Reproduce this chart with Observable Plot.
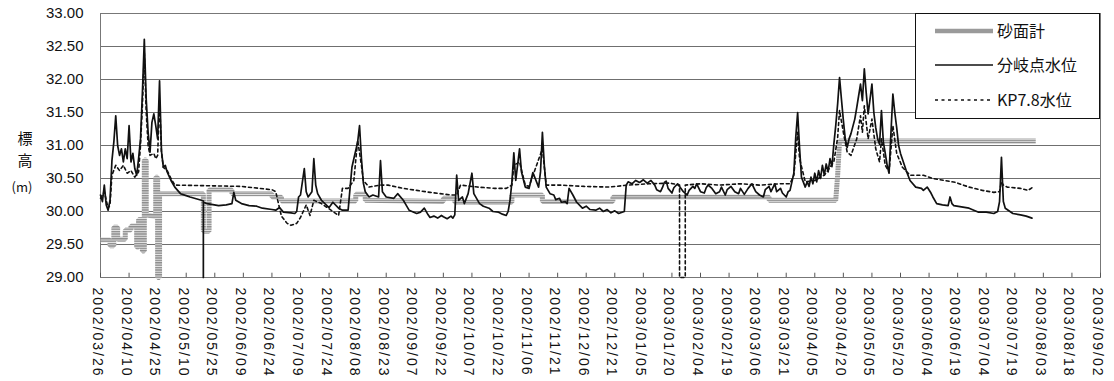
<!DOCTYPE html>
<html><head><meta charset="utf-8">
<script src="https://cdn.jsdelivr.net/npm/d3@7"></script>
<script src="https://cdn.jsdelivr.net/npm/@observablehq/plot@0.6"></script>
<style>
body{margin:0;background:#fff;}
#chart svg{display:block}
g[aria-label="x-axis tick label"] text{letter-spacing:2px}
</style>
</head><body><div id="chart"></div>
<script>
// ---- data ----
const seriesNames = ["砂面計", "分岐点水位", "KP7.8水位"];
const yTickValues = [29, 29.5, 30, 30.5, 31, 31.5, 32, 32.5, 33];
const xTickLabels = ["2002/03/26","2002/04/10","2002/04/25","2002/05/10","2002/05/25","2002/06/09","2002/06/24","2002/07/09","2002/07/24","2002/08/08","2002/08/23","2002/09/07","2002/09/22","2002/10/07","2002/10/22","2002/11/06","2002/11/21","2002/12/06","2002/12/21","2003/01/05","2003/01/20","2003/02/04","2003/02/19","2003/03/06","2003/03/21","2003/04/05","2003/04/20","2003/05/05","2003/05/20","2003/06/04","2003/06/19","2003/07/04","2003/07/19","2003/08/03","2003/08/18","2003/09/02"];

const sandLevel = [["2002-03-26",29.57],["2002-03-31",29.57],["2002-03-31",29.48],["2002-04-02",29.48],["2002-04-02",29.76],["2002-04-04",29.76],["2002-04-04",29.58],["2002-04-08",29.58],["2002-04-08",29.72],["2002-04-11",29.72],["2002-04-11",29.78],["2002-04-14",29.78],["2002-04-14",29.46],["2002-04-15",29.46],["2002-04-15",29.88],["2002-04-17",29.88],["2002-04-17",29.40],["2002-04-18",29.40],["2002-04-18",30.78],["2002-04-19",30.78],["2002-04-19",29.95],["2002-04-24",29.92],["2002-04-24",30.52],["2002-04-25",30.52],["2002-04-25",29.00],["2002-04-26",29.00],["2002-04-26",30.27],["2002-05-19",30.27],["2002-05-19",29.70],["2002-05-22",29.70],["2002-05-22",30.33],["2002-06-03",30.33],["2002-06-03",30.27],["2002-06-24",30.27],["2002-06-24",30.22],["2002-06-29",30.22],["2002-06-29",30.16],["2002-08-07",30.16],["2002-08-07",30.26],["2002-08-12",30.26],["2002-08-12",30.17],["2002-09-22",30.15],["2002-09-22",30.20],["2002-09-28",30.20],["2002-09-28",30.14],["2002-10-28",30.14],["2002-10-28",30.25],["2002-11-13",30.25],["2002-11-13",30.15],["2002-12-20",30.15],["2002-12-20",30.22],["2003-03-12",30.22],["2003-03-12",30.17],["2003-04-16",30.17],["2003-04-17",30.55],["2003-04-18",31.07],["2003-07-30",31.07]];

const branchLevel = [["2002-03-26",30.25],["2002-03-27",30.15],["2002-03-28",30.40],["2002-03-29",30.10],["2002-03-30",30.02],["2002-03-31",30.17],["2002-04-01",30.77],["2002-04-02",31.05],["2002-04-03",31.45],["2002-04-04",31.00],["2002-04-05",30.85],["2002-04-06",30.95],["2002-04-07",30.75],["2002-04-08",30.95],["2002-04-09",30.80],["2002-04-10",31.30],["2002-04-11",30.75],["2002-04-12",30.88],["2002-04-13",30.65],["2002-04-14",30.55],["2002-04-15",30.80],["2002-04-16",31.10],["2002-04-17",31.80],["2002-04-18",32.61],["2002-04-19",31.70],["2002-04-20",31.20],["2002-04-21",30.90],["2002-04-22",31.35],["2002-04-23",31.48],["2002-04-24",31.30],["2002-04-25",31.10],["2002-04-26",31.98],["2002-04-27",30.92],["2002-04-28",30.67],["2002-04-29",30.70],["2002-04-30",30.60],["2002-05-02",30.47],["2002-05-03",30.42],["2002-05-04",30.37],["2002-05-07",30.27],["2002-05-10",30.24],["2002-05-12",30.22],["2002-05-18",30.17],["2002-05-19",30.16],["2002-05-19",29.00],["2002-05-19",30.14],["2002-05-21",30.12],["2002-05-27",30.09],["2002-05-31",30.10],["2002-06-03",30.12],["2002-06-04",30.29],["2002-06-05",30.17],["2002-06-08",30.12],["2002-06-12",30.09],["2002-06-16",30.08],["2002-06-19",30.05],["2002-06-24",30.03],["2002-06-26",30.02],["2002-06-28",30.06],["2002-06-30",29.99],["2002-07-04",29.98],["2002-07-06",29.97],["2002-07-07",30.00],["2002-07-08",30.22],["2002-07-09",30.25],["2002-07-11",30.65],["2002-07-12",30.30],["2002-07-13",30.22],["2002-07-15",30.30],["2002-07-16",30.80],["2002-07-17",30.40],["2002-07-18",30.27],["2002-07-20",30.17],["2002-07-24",30.06],["2002-07-26",30.14],["2002-07-29",30.05],["2002-07-31",30.02],["2002-08-03",30.02],["2002-08-04",30.35],["2002-08-05",30.67],["2002-08-06",30.80],["2002-08-08",31.05],["2002-08-09",31.30],["2002-08-10",30.80],["2002-08-11",30.43],["2002-08-12",30.30],["2002-08-14",30.22],["2002-08-16",30.25],["2002-08-19",30.22],["2002-08-20",30.77],["2002-08-21",30.30],["2002-08-23",30.22],["2002-08-27",30.20],["2002-08-29",30.27],["2002-09-01",30.17],["2002-09-02",30.12],["2002-09-04",30.02],["2002-09-08",29.97],["2002-09-10",29.99],["2002-09-12",30.05],["2002-09-14",29.95],["2002-09-15",29.91],["2002-09-17",29.93],["2002-09-19",29.90],["2002-09-21",29.94],["2002-09-22",29.92],["2002-09-24",29.89],["2002-09-26",29.93],["2002-09-27",29.90],["2002-09-28",29.95],["2002-09-29",30.55],["2002-09-30",30.17],["2002-10-02",30.22],["2002-10-03",30.12],["2002-10-05",30.27],["2002-10-07",30.58],["2002-10-08",30.27],["2002-10-11",30.12],["2002-10-13",30.08],["2002-10-16",30.05],["2002-10-18",30.00],["2002-10-21",29.99],["2002-10-23",29.96],["2002-10-25",29.94],["2002-10-26",30.00],["2002-10-27",30.17],["2002-10-28",30.45],["2002-10-29",30.89],["2002-10-30",30.47],["2002-11-01",30.95],["2002-11-02",30.60],["2002-11-04",30.37],["2002-11-06",30.35],["2002-11-08",30.59],["2002-11-11",30.37],["2002-11-12",30.60],["2002-11-13",31.20],["2002-11-14",30.70],["2002-11-15",30.37],["2002-11-17",30.27],["2002-11-19",30.25],["2002-11-20",30.18],["2002-11-22",30.20],["2002-11-23",30.14],["2002-11-25",30.15],["2002-11-26",30.12],["2002-11-27",30.35],["2002-11-29",30.25],["2002-12-01",30.14],["2002-12-04",30.05],["2002-12-06",30.08],["2002-12-08",30.03],["2002-12-11",30.02],["2002-12-13",30.05],["2002-12-15",30.00],["2002-12-17",30.03],["2002-12-19",29.98],["2002-12-21",30.01],["2002-12-23",29.97],["2002-12-26",30.00],["2002-12-27",30.40],["2002-12-28",30.45],["2002-12-30",30.42],["2003-01-01",30.47],["2003-01-03",30.44],["2003-01-05",30.48],["2003-01-07",30.43],["2003-01-09",30.47],["2003-01-11",30.40],["2003-01-12",30.33],["2003-01-14",30.30],["2003-01-15",30.36],["2003-01-16",30.44],["2003-01-17",30.46],["2003-01-18",30.35],["2003-01-20",30.28],["2003-01-21",30.36],["2003-01-23",30.42],["2003-01-24",30.38],["2003-01-26",30.30],["2003-01-28",30.25],["2003-01-29",30.32],["2003-01-31",30.38],["2003-02-01",30.35],["2003-02-02",30.42],["2003-02-04",30.30],["2003-02-06",30.28],["2003-02-07",30.36],["2003-02-08",30.40],["2003-02-10",30.35],["2003-02-12",30.27],["2003-02-14",30.30],["2003-02-15",30.37],["2003-02-17",30.25],["2003-02-18",30.33],["2003-02-20",30.38],["2003-02-22",30.30],["2003-02-24",30.27],["2003-02-25",30.35],["2003-02-27",30.26],["2003-03-01",30.35],["2003-03-03",30.42],["2003-03-05",30.30],["2003-03-07",30.25],["2003-03-09",30.22],["2003-03-10",30.33],["2003-03-12",30.38],["2003-03-13",30.30],["2003-03-15",30.42],["2003-03-16",30.30],["2003-03-18",30.35],["2003-03-19",30.28],["2003-03-21",30.22],["2003-03-22",30.30],["2003-03-23",30.32],["2003-03-25",30.58],["2003-03-26",31.12],["2003-03-27",31.50],["2003-03-28",30.97],["2003-03-29",30.52],["2003-03-31",30.37],["2003-04-01",30.45],["2003-04-02",30.38],["2003-04-03",30.52],["2003-04-04",30.42],["2003-04-05",30.58],["2003-04-06",30.45],["2003-04-07",30.62],["2003-04-08",30.50],["2003-04-09",30.70],["2003-04-10",30.55],["2003-04-11",30.72],["2003-04-12",30.60],["2003-04-13",30.80],["2003-04-14",30.68],["2003-04-15",31.02],["2003-04-16",31.30],["2003-04-17",31.63],["2003-04-18",32.03],["2003-04-19",31.70],["2003-04-20",31.38],["2003-04-21",31.10],["2003-04-22",30.97],["2003-04-23",31.10],["2003-04-24",31.18],["2003-04-26",31.40],["2003-04-27",31.57],["2003-04-28",31.75],["2003-04-29",31.93],["2003-04-30",31.68],["2003-05-01",32.16],["2003-05-02",31.80],["2003-05-03",31.48],["2003-05-04",31.70],["2003-05-05",31.93],["2003-05-06",31.50],["2003-05-07",31.27],["2003-05-08",31.10],["2003-05-09",31.02],["2003-05-10",31.53],["2003-05-11",31.05],["2003-05-12",30.88],["2003-05-13",30.70],["2003-05-14",30.58],["2003-05-15",31.20],["2003-05-16",31.78],["2003-05-17",31.50],["2003-05-18",31.27],["2003-05-19",31.00],["2003-05-20",30.88],["2003-05-23",30.62],["2003-05-25",30.47],["2003-05-28",30.37],["2003-05-31",30.35],["2003-06-01",30.32],["2003-06-03",30.37],["2003-06-05",30.28],["2003-06-06",30.22],["2003-06-08",30.12],["2003-06-11",30.10],["2003-06-14",30.09],["2003-06-15",30.22],["2003-06-16",30.12],["2003-06-17",30.09],["2003-06-21",30.07],["2003-06-25",30.05],["2003-06-30",29.99],["2003-07-04",29.99],["2003-07-08",29.97],["2003-07-10",30.00],["2003-07-11",30.15],["2003-07-12",30.82],["2003-07-13",30.15],["2003-07-14",30.05],["2003-07-18",29.97],["2003-07-22",29.95],["2003-07-25",29.93],["2003-07-28",29.90]];

const kpLevel = [["2002-03-26",30.20],["2002-03-28",30.30],["2002-03-30",30.05],["2002-03-31",30.10],["2002-04-01",30.55],["2002-04-03",30.70],["2002-04-05",30.62],["2002-04-07",30.70],["2002-04-09",30.58],["2002-04-11",30.62],["2002-04-13",30.52],["2002-04-15",30.60],["2002-04-16",31.00],["2002-04-17",31.60],["2002-04-18",32.40],["2002-04-19",31.50],["2002-04-20",31.00],["2002-04-21",30.85],["2002-04-23",30.88],["2002-04-24",30.80],["2002-04-25",30.85],["2002-04-26",31.70],["2002-04-27",30.90],["2002-04-28",30.67],["2002-04-30",30.62],["2002-05-02",30.50],["2002-05-04",30.40],["2002-05-22",30.39],["2002-06-08",30.38],["2002-06-24",30.33],["2002-06-26",30.30],["2002-06-28",30.05],["2002-06-29",29.93],["2002-07-02",29.82],["2002-07-04",29.79],["2002-07-07",29.82],["2002-07-09",29.91],["2002-07-12",30.10],["2002-07-14",29.94],["2002-07-16",30.17],["2002-07-20",30.12],["2002-07-25",30.02],["2002-07-29",29.94],["2002-07-31",30.35],["2002-08-03",30.35],["2002-08-06",30.47],["2002-08-08",31.08],["2002-08-10",30.70],["2002-08-11",30.47],["2002-08-14",30.37],["2002-08-20",30.40],["2002-08-24",30.40],["2002-09-01",30.35],["2002-09-08",30.32],["2002-09-15",30.29],["2002-09-26",30.25],["2002-09-29",30.25],["2002-10-01",30.40],["2002-10-10",30.37],["2002-10-19",30.35],["2002-10-25",30.35],["2002-10-28",30.40],["2002-10-29",30.70],["2002-11-01",30.75],["2002-11-04",30.40],["2002-11-06",30.38],["2002-11-13",30.95],["2002-11-15",30.40],["2002-11-22",30.40],["2002-12-05",30.38],["2002-12-18",30.37],["2002-12-28",30.40],["2003-01-08",30.42],["2003-01-19",30.43],["2003-01-24",30.40],["2003-01-24",29.00],["2003-01-27",29.00],["2003-01-27",30.40],["2003-02-04",30.42],["2003-02-14",30.40],["2003-02-25",30.42],["2003-03-07",30.40],["2003-03-18",30.42],["2003-03-23",30.42],["2003-03-25",30.55],["2003-03-27",31.20],["2003-03-28",30.80],["2003-03-31",30.45],["2003-04-05",30.47],["2003-04-10",30.55],["2003-04-15",30.75],["2003-04-17",31.12],["2003-04-18",31.53],["2003-04-20",31.20],["2003-04-22",30.90],["2003-04-24",30.85],["2003-04-27",31.10],["2003-04-29",31.45],["2003-04-30",31.20],["2003-05-01",31.60],["2003-05-03",31.10],["2003-05-05",31.40],["2003-05-07",30.95],["2003-05-09",30.75],["2003-05-10",31.10],["2003-05-12",30.70],["2003-05-14",30.60],["2003-05-16",31.30],["2003-05-18",30.88],["2003-05-21",30.67],["2003-05-25",30.55],["2003-06-01",30.55],["2003-06-06",30.50],["2003-06-18",30.44],["2003-06-25",30.37],["2003-07-02",30.32],["2003-07-08",30.29],["2003-07-11",30.30],["2003-07-12",30.45],["2003-07-13",30.40],["2003-07-15",30.37],["2003-07-22",30.35],["2003-07-26",30.32],["2003-07-28",30.36]];

// ---- chart ----
const parseTick = d3.utcParse("%Y/%m/%d");
const parseDay = d3.utcParse("%Y-%m-%d");
const fmtTick = d3.utcFormat("%Y/%m/%d");
const xTickDates = xTickLabels.map(parseTick);
const toRows = arr => arr.map(([d, v]) => ({date: parseDay(d), value: v}));

const fontLatin = "'Liberation Sans', Arial, Helvetica, sans-serif";
const fontCJK = "'Noto Sans CJK JP', 'Noto Sans', sans-serif";

const chart = Plot.plot({
  width: 1114, height: 381,
  marginLeft: 100, marginRight: 14, marginTop: 13, marginBottom: 104,
  style: {fontFamily: fontLatin, fontSize: "14px", color: "#111", background: "#fff"},
  x: {type: "utc", domain: [xTickDates[0], xTickDates[xTickDates.length - 1]]},
  y: {domain: [29, 33]},
  marks: [
    Plot.ruleY(yTickValues, {stroke: "#6f6f6f", strokeWidth: 1}),
    Plot.frame({stroke: "#777"}),
    Plot.ruleX(xTickDates, {y1: 29, y2: 29.065, stroke: "#555"}),
    Plot.axisY({ticks: yTickValues, tickFormat: d => d.toFixed(2), tickSize: 0, tickPadding: 17, fontSize: 15, label: null}),
    Plot.axisX({ticks: xTickDates, tickFormat: fmtTick, tickRotate: 90, tickSize: 0, tickPadding: 10, fontSize: 14, label: null, dx: -3}),
    Plot.line(toRows(sandLevel), {x: "date", y: "value", stroke: "url(#sandHatch)", strokeWidth: 5, strokeLinejoin: "miter", strokeLinecap: "butt"}),
    Plot.line(toRows(branchLevel), {x: "date", y: "value", stroke: "#111", strokeWidth: 1.7}),
    Plot.line(toRows(kpLevel), {x: "date", y: "value", stroke: "#111", strokeWidth: 1.6, strokeDasharray: "3,3"})
  ]
});
document.getElementById("chart").appendChild(chart);

// pattern for the sand-meter band
const svg = d3.select(chart);
const defs = svg.insert("defs", ":first-child");
const pat = defs.append("pattern").attr("id", "sandHatch").attr("patternUnits", "userSpaceOnUse").attr("width", 6).attr("height", 2.4);
pat.append("rect").attr("width", 6).attr("height", 2.4).attr("fill", "#e2e2e2");
pat.append("rect").attr("width", 6).attr("height", 1.4).attr("fill", "#8e8e8e");

// y-axis title
const yt = svg.append("g").attr("font-family", fontCJK).attr("fill", "#111");
yt.append("text").attr("x", 25).attr("y", 144).attr("text-anchor", "middle").attr("font-size", 15).text("標");
yt.append("text").attr("x", 25).attr("y", 166).attr("text-anchor", "middle").attr("font-size", 15).text("高");
yt.append("text").attr("x", 22).attr("y", 192).attr("text-anchor", "middle").attr("font-size", 13).text("(m)");

// legend
const lg = svg.append("g");
lg.append("rect").attr("x", 915.5).attr("y", 13.5).attr("width", 184).attr("height", 105).attr("fill", "#fff").attr("stroke", "#111");
const items = [
  {y: 31, stroke: "#9a9a9a", w: 4.5, dash: null},
  {y: 65, stroke: "#111", w: 1.6, dash: null},
  {y: 100, stroke: "#111", w: 1.6, dash: "3,3.5"}
];
items.forEach((it, i) => {
  lg.append("line").attr("x1", 935).attr("x2", 993).attr("y1", it.y).attr("y2", it.y)
    .attr("stroke", it.stroke).attr("stroke-width", it.w).attr("stroke-dasharray", it.dash);
  lg.append("text").attr("x", 997).attr("y", it.y).attr("dy", "0.36em").attr("text-anchor", "start")
    .attr("font-family", fontCJK).attr("font-size", 16).attr("fill", "#111").text(seriesNames[i]);
});
</script>
</body></html>
